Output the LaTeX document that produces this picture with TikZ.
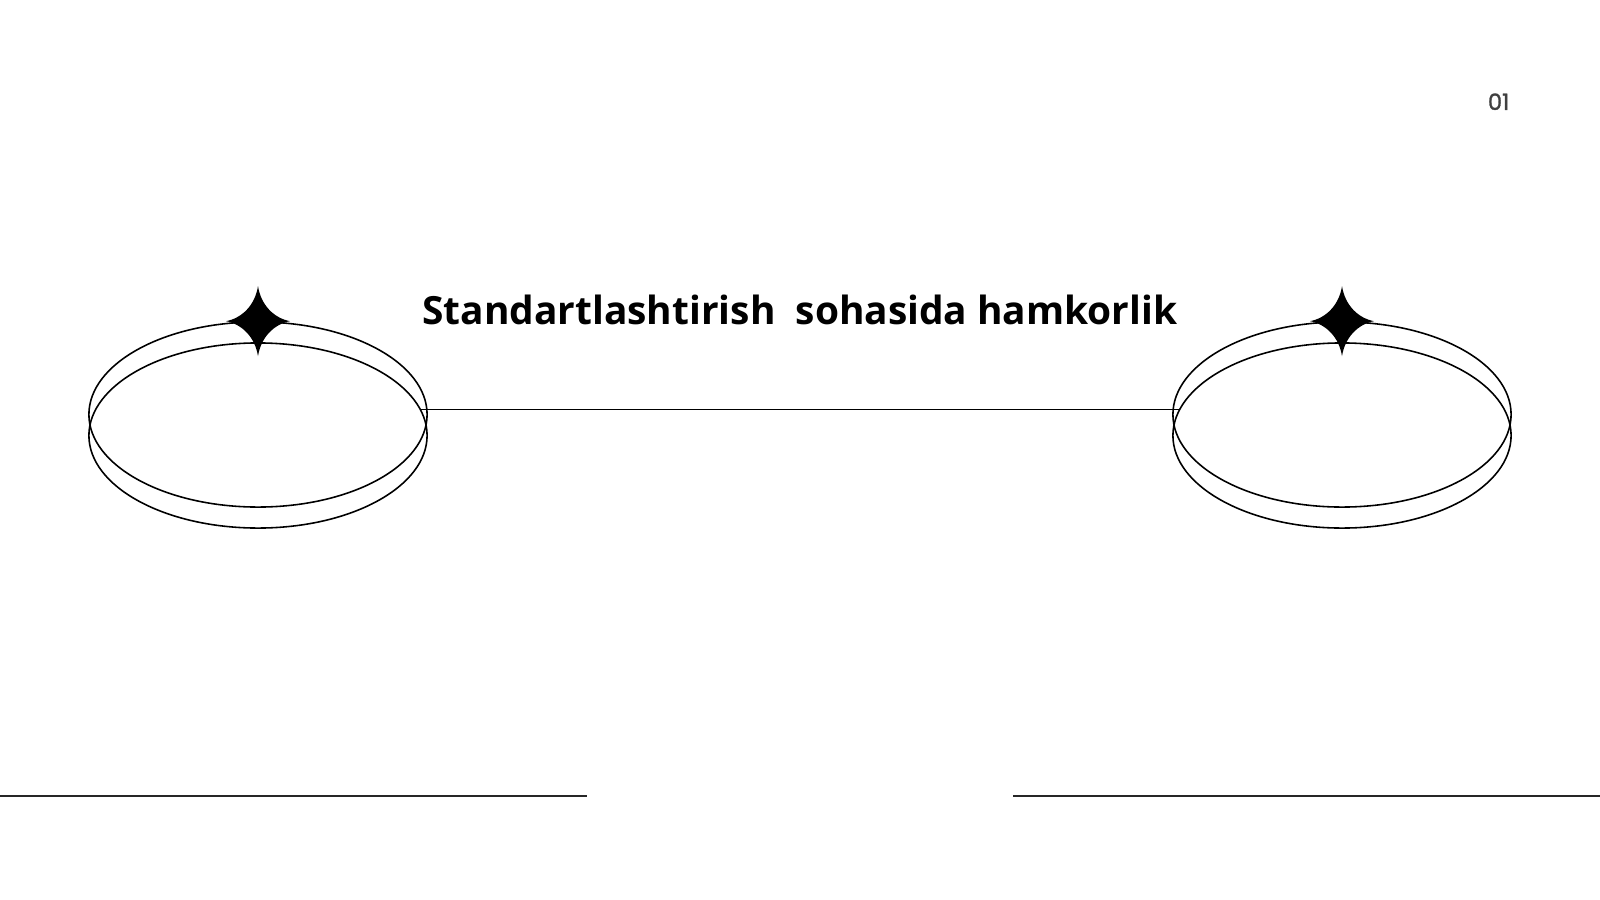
\documentclass[tikz,border=0pt]{standalone}
\usepackage{fontspec}
\setmainfont{Open Sans}
\newfontfamily\pagefont[FakeBold=1.2]{Poppins}
\usetikzlibrary{shapes.geometric}
\usetikzlibrary{backgrounds}

\begin{document}
\begin{tikzpicture}[x=0.01cm,y=-0.01cm]
            \tikzstyle{ring}=[ellipse,draw=black,line width=0.45pt,minimum width=3.38cm,minimum height=1.85cm,inner sep=0pt]
            \tikzstyle{link}=[draw=black,line width=0.45pt,-]
            \tikzstyle{rule}=[draw=black!85,line width=0.7pt,-]
            \tikzstyle{sparkle}=[fill=black,draw=none]
            \tikzstyle{title}=[anchor=base,inner sep=0pt,font=\fontsize{11.05}{13}\selectfont\bfseries]
            \tikzstyle{pagenum}=[anchor=base east,inner sep=0pt,text=black!75,font=\pagefont\fontsize{6.4}{7}\selectfont]

            \def\sx{32}
            \def\sy{35}

            \fill[white] (0,0) rectangle (1600,900);
            \useasboundingbox (0,0) rectangle (1600,900);

            \node[ring] (ringLa) at (258,414.5) {};
            \node[ring] (ringLb) at (258,435.5) {};
            \node[ring] (ringRa) at (1342,414.5) {};
            \node[ring] (ringRb) at (1342,435.5) {};

            \foreach \c in {ringLa,ringRa}
            {
                \begin{scope}[shift={(\c.north)}]
                    \path[sparkle] (0,-\sy) .. controls (3,-16) and (16,-3) .. (\sx,0)
                        .. controls (16,3) and (3,16) .. (0,\sy)
                        .. controls (-3,16) and (-16,3) .. (-\sx,0)
                        .. controls (-16,-3) and (-3,-16) .. (0,-\sy) -- cycle;
                \end{scope}
            }

            \path[link] (ringLb.9.7) -- (ringLb.9.7 -| ringRb.170.3);

            \node[title] (title) at (800,324) {Standartlashtirish\ \ sohasida hamkorlik};
            \node[pagenum] (page) at (1510,110) {01};

            \coordinate (ruleL1) at (0,796);
            \coordinate (ruleL2) at (587,796);
            \coordinate (ruleR1) at (1013,796);
            \coordinate (ruleR2) at (1600,796);

            \path[rule] (ruleL1) -- (ruleL2);
            \path[rule] (ruleR1) -- (ruleR2);
        \end{tikzpicture}
\end{document}
